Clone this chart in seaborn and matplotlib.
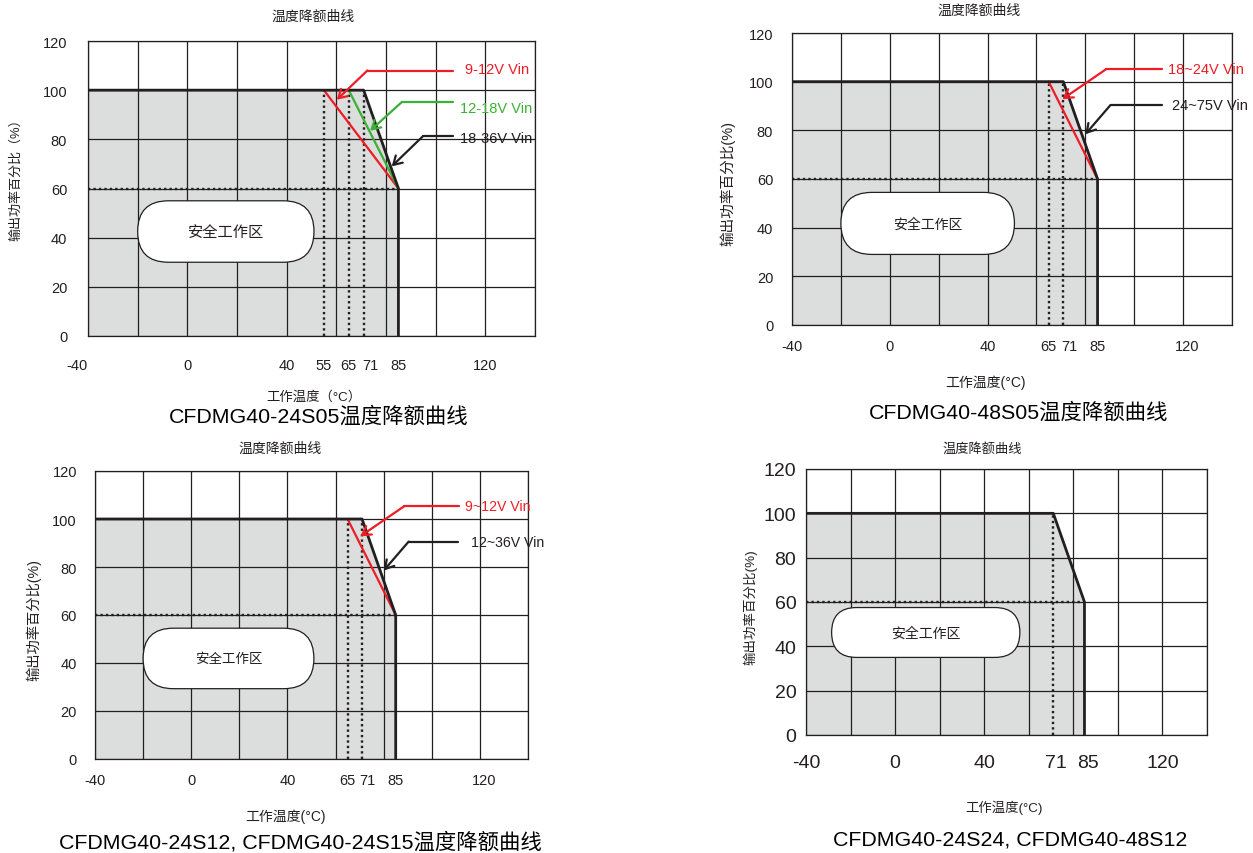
import numpy as np
import matplotlib.pyplot as plt
import matplotlib.transforms as mtransforms
from matplotlib.patches import FancyBboxPatch
import seaborn as sns

sns.set_theme(style="white")
plt.rcParams['font.family'] = ['Liberation Sans', 'Noto Sans CJK SC', 'DejaVu Sans']

W, H = 1253, 854

# ---- data ----
temp_grid = list(range(-40, 141, 20))
power_grid = [0, 20, 40, 60, 80, 100, 120]
knee_temp, knee_power = 85, 60

# CFDMG40-24S05
c1_xticks = [-40, 0, 40, 55, 65, 71, 85, 120]
c1_black_x = [-40, 71, 85, 85]
c1_black_y = [100, 100, 60, 0]
c1_start = [55, 65]                  # red / green derating start temps
c1_labels = ["9-12V Vin", "12-18V Vin", "18-36V Vin"]

# CFDMG40-48S05
c2_xticks = [-40, 0, 40, 65, 71, 85, 120]
c2_black_x = [-40, 71, 85, 85]
c2_black_y = [100, 100, 60, 0]
c2_start = [65]
c2_labels = ["18~24V Vin", "24~75V Vin"]

# CFDMG40-24S12 / 24S15
c3_xticks = [-40, 0, 40, 65, 71, 85, 120]
c3_black_x = [-40, 71, 85, 85]
c3_black_y = [100, 100, 60, 0]
c3_start = [65]
c3_labels = ["9~12V Vin", "12~36V Vin"]

# CFDMG40-24S24 / 48S12
c4_xticks = [-40, 0, 40, 71, 85, 120]
c4_black_x = [-40, 71, 85, 85]
c4_black_y = [100, 100, 60, 0]
c4_start = []
c4_labels = []

BLACK = '#231f20'
RED = '#ee1c25'
GREEN = '#3cb034'
GRAY = '#dcdede'


def px_rect(l, t, r, b):
    return [l / W, 1 - b / H, (r - l) / W, (b - t) / H]


def ftext(x, y, s, **kw):
    fig.text(x / W, 1 - y / H, s, ha='center', va='center', **kw)


def draw_chart(ax, xticks, bx, by, starts, colors, labels, ann, box,
               tick_fs, xpad, ypad, box_fs, lab_fs, shifts):
    ax.set_xlim(-40, 140)
    ax.set_ylim(0, 120)
    ax.set_axisbelow(True)

    # grid every 20 deg / 20 %
    ax.xaxis.remove_overlapping_locs = False
    ax.set_xticks(temp_grid, minor=True)
    ax.set_xticks(xticks)
    ax.set_yticks(power_grid)
    ax.grid(False, which='major', axis='x')
    ax.grid(True, which='minor', axis='x', color=BLACK, lw=0.9)
    ax.grid(True, which='major', axis='y', color=BLACK, lw=0.9)
    ax.tick_params(which='both', length=0, labelsize=tick_fs, colors=BLACK)
    ax.tick_params(axis='x', pad=xpad)
    ax.tick_params(axis='y', pad=ypad)
    for sp in ax.spines.values():
        sp.set_visible(True)
        sp.set_color(BLACK)
        sp.set_linewidth(0.9)

    # safe operating area
    ax.fill_between(bx, by, 0, color=GRAY, lw=0, zorder=0.3)

    # dotted reference lines
    ax.plot([-40, knee_temp], [knee_power, knee_power], ls=(0, (1, 1.3)),
            lw=1.7, color=BLACK, zorder=2)
    for t in starts + [bx[1]]:
        ax.plot([t, t], [0, 100], ls=(0, (1, 1.3)), lw=1.7, color=BLACK, zorder=2)

    # derating curves
    for t, c in zip(starts, colors):
        sns.lineplot(x=[t, knee_temp], y=[100, knee_power], color=c, lw=1.6,
                     sort=False, estimator=None, ax=ax, zorder=4)
    sns.lineplot(x=bx, y=by, color=BLACK, lw=2.0, sort=False, estimator=None,
                 ax=ax, zorder=5)

    # rounded label box
    x0, x1, y0, y1 = box
    sx = ax.bbox.width / 180
    sy = ax.bbox.height / 120
    asp = sx / sy
    h = y1 - y0
    patch = FancyBboxPatch((x0, y0), x1 - x0, h,
                           boxstyle=f"round,pad=0,rounding_size={h / 2 / asp:.3f}",
                           mutation_aspect=asp, fc='white', ec=BLACK, lw=0.9, zorder=3)
    ax.add_patch(patch)
    ax.text((x0 + x1) / 2, (y0 + y1) / 2, "安全工作区", ha='center', va='center',
            fontsize=box_fs, color=BLACK, zorder=6)

    # voltage labels with bent arrows
    for lab, c, (tx, ty, yl, xr, xk, tipx, tipy) in zip(labels, colors + [BLACK], ann):
        ax.plot([xr, xk], [yl, yl], color=c, lw=1.6, clip_on=False, zorder=6)
        ax.annotate('', xy=(tipx, tipy), xytext=(xk, yl),
                    arrowprops=dict(arrowstyle='->,head_length=0.5,head_width=0.3',
                                    color=c, lw=1.6, shrinkA=0, shrinkB=0),
                    zorder=6, annotation_clip=False)
        ax.text(tx, ty, lab, color=c, fontsize=lab_fs, ha='left', va='center',
                clip_on=False, zorder=6)

    ax.set_xticklabels([str(v) for v in xticks])
    for tl in ax.get_xticklabels():
        s = tl.get_text()
        if s in shifts:
            dx = shifts[s]
            if dx == 'r':
                tl.set_ha('right')
            else:
                tl.set_transform(tl.get_transform() +
                                 mtransforms.ScaledTranslation(dx / 100, 0, fig.dpi_scale_trans))


fig = plt.figure(figsize=(W / 100, H / 100), dpi=100)

ax1 = fig.add_axes(px_rect(88, 42, 535, 337))
draw_chart(ax1, c1_xticks, c1_black_x, c1_black_y, c1_start, [RED, GREEN], c1_labels,
           [(112, 108.5, 108.0, 107, 72.5, 60.2, 96.1),
            (110, 92.6, 95.1, 107, 86.3, 73.6, 83.5),
            (110, 80.4, 81.2, 107, 94.8, 82.3, 69.0)],
           (-20, 51, 30, 55), 10.5, 16, 15, 11, 10.5, {'-40': 'r', '71': 7})

ax2 = fig.add_axes(px_rect(792, 34, 1232, 326))
draw_chart(ax2, c2_xticks, c2_black_x, c2_black_y, c2_start, [RED], c2_labels,
           [(114, 105.2, 105.2, 111.2, 88.6, 70.6, 92.8),
            (115.6, 90.4, 90.4, 111.2, 90.3, 80.0, 78.4)],
           (-20, 51, 29, 54.5), 10.5, 10, 13.5, 10, 10.5, {'71': 6, '120': 4})

ax3 = fig.add_axes(px_rect(95, 472, 528, 760))
draw_chart(ax3, c3_xticks, c3_black_x, c3_black_y, c3_start, [RED], c3_labels,
           [(113.8, 105.3, 105.3, 111.5, 88.5, 70.3, 92.8),
            (116.2, 90.6, 90.6, 111.0, 90.4, 80.0, 78.5)],
           (-20, 51, 29.3, 54.5), 10.5, 10, 13, 9.7, 10.2, {'71': 5, '120': 4})

ax4 = fig.add_axes(px_rect(806, 470, 1207, 736))
draw_chart(ax4, c4_xticks, c4_black_x, c4_black_y, c4_start, [], c4_labels, [],
           (-28.5, 56, 35, 57.5), 14, 14, 7, 10, 10, {'71': 3, '85': 4})

# titles, axis labels and captions
ftext(313, 17, "温度降额曲线", fontsize=10, color=BLACK)
ftext(979, 11, "温度降额曲线", fontsize=10, color=BLACK)
ftext(280, 449, "温度降额曲线", fontsize=10, color=BLACK)
ftext(982, 449, "温度降额曲线", fontsize=9.5, color=BLACK)

ftext(314, 397, "工作温度（°C）", fontsize=9.6, color=BLACK)
ftext(986, 383, "工作温度(°C)", fontsize=10, color=BLACK)
ftext(286, 817, "工作温度(°C)", fontsize=10, color=BLACK)
ftext(1004, 808, "工作温度(°C)", fontsize=9.6, color=BLACK)

ftext(16, 177, "输出功率百分比（%）", fontsize=9.4, rotation=90, color=BLACK)
ftext(728, 183, "输出功率百分比(%)", fontsize=10.5, rotation=90, color=BLACK)
ftext(34, 620, "输出功率百分比(%)", fontsize=10.3, rotation=90, color=BLACK)
ftext(750, 607, "输出功率百分比(%)", fontsize=9.7, rotation=90, color=BLACK)

ftext(319, 417, "CFDMG40-24S05温度降额曲线", fontsize=15.4, color='black')
ftext(1019, 413, "CFDMG40-48S05温度降额曲线", fontsize=15.4, color='black')
ftext(300, 842, "CFDMG40-24S12, CFDMG40-24S15温度降额曲线", fontsize=15.4, color='black')
ftext(1010, 840, "CFDMG40-24S24, CFDMG40-48S12", fontsize=15.4, color='black')

fig.savefig("out.png", dpi=100, facecolor='white')
